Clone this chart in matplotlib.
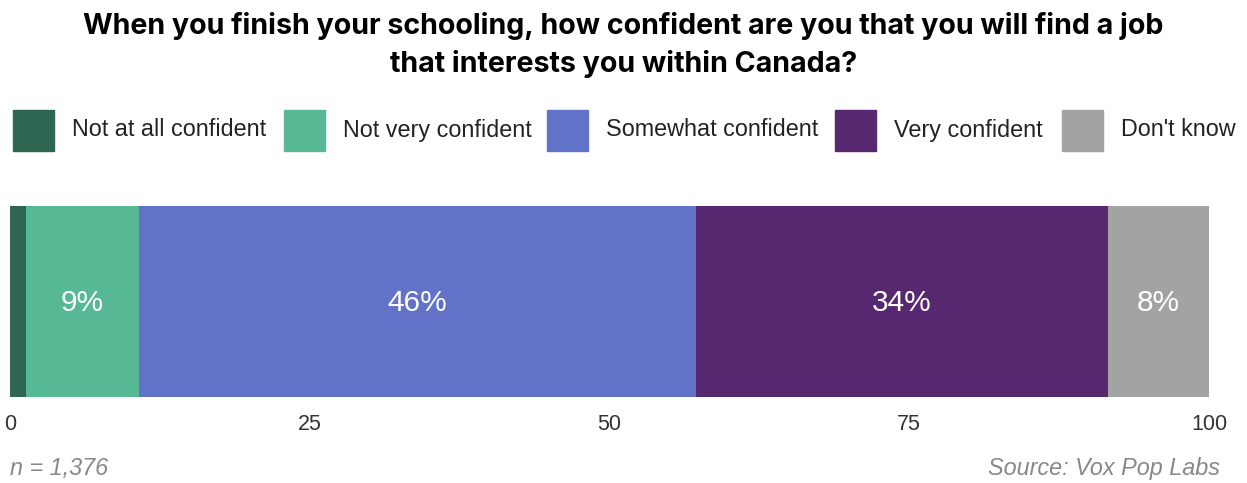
import matplotlib.pyplot as plt
from matplotlib.patches import Rectangle

categories = ["Not at all confident", "Not very confident", "Somewhat confident",
              "Very confident", "Don't know"]
values = [1.3, 9.5, 46.4, 34.4, 8.4]
labels = ["", "9%", "46%", "34%", "8%"]
colors = ["#2f6652", "#57b994", "#6172c8", "#57286f", "#a3a3a3"]
ticks = [0, 25, 50, 75, 100]

title = ("When you finish your schooling, how confident are you that you will find a job\n"
         "that interests you within Canada?")

plt.rcParams['font.family'] = ['Liberation Sans', 'DejaVu Sans']

fig = plt.figure(figsize=(12.47, 4.83), dpi=100)
ax = fig.add_axes([10 / 1247, 86 / 483, 1199 / 1247, 191 / 483])

left = 0
for val, lab, col in zip(values, labels, colors):
    ax.barh(0, val, left=left, height=1, color=col, edgecolor='none')
    if lab:
        ax.text(left + val / 2, -0.01, lab, ha='center', va='center',
                color='white', fontsize=21.5)
    left += val

ax.set_xlim(0, 100)
ax.set_ylim(-0.5, 0.5)
ax.set_yticks([])
ax.set_xticks(ticks)
ax.set_xticklabels([str(t) for t in ticks])
ax.tick_params(axis='x', length=0, pad=12, labelsize=15.5, labelcolor='#333333')
for s in ax.spines.values():
    s.set_visible(False)

# title
fig.text(0.5, 1 - 45 / 483, title, ha='center', va='center', fontsize=20.6,
         fontweight='bold', family=['Inter', 'DejaVu Sans'], linespacing=1.45)

# legend drawn by hand
box_x = [13, 284, 547, 835, 1062]
for bx, cat, col in zip(box_x, categories, colors):
    fig.patches.append(Rectangle((bx / 1247, (483 - 151) / 483), 41 / 1247, 41 / 483,
                                 transform=fig.transFigure, color=col))
    fig.text((bx + 59) / 1247, 1 - 130 / 483, cat, ha='left', va='center',
             fontsize=16.8, color='#222222')

fig.text(10 / 1247, 1 - 468 / 483, "n = 1,376", ha='left', va='center',
         fontsize=16.8, style='italic', color='#888888')
fig.text(1220 / 1247, 1 - 468 / 483, "Source: Vox Pop Labs", ha='right', va='center',
         fontsize=16.8, style='italic', color='#888888')

fig.savefig("out.png", dpi=100)
